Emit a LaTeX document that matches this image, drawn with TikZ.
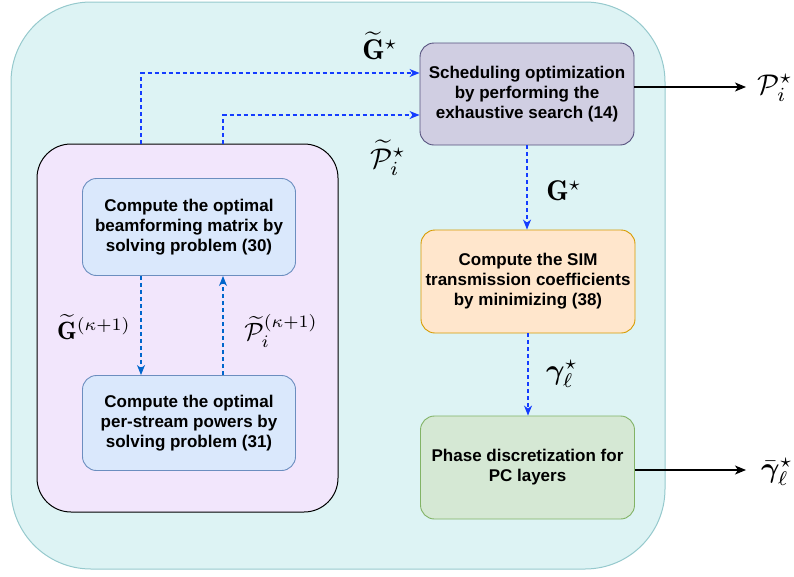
\documentclass[tikz,border=0pt]{standalone}
\usepackage{amsmath, amssymb}
\usepackage{bm}
\usepackage{xcolor}
\usepackage{fontspec}
\newfontfamily\boxfont{Liberation Sans}
\usepackage{tikz}
\usetikzlibrary{arrows.meta, positioning}

\definecolor{outerfill}{RGB}{221,243,244}
\definecolor{outerline}{RGB}{150,201,205}
\definecolor{loopfill}{RGB}{242,230,252}
\definecolor{stepfill}{RGB}{218,232,252}
\definecolor{stepline}{RGB}{108,142,191}
\definecolor{schedfill}{RGB}{208,206,226}
\definecolor{schedline}{RGB}{86,81,126}
\definecolor{simfill}{RGB}{255,230,204}
\definecolor{simline}{RGB}{215,155,0}
\definecolor{phasefill}{RGB}{213,232,212}
\definecolor{phaseline}{RGB}{130,179,102}
\definecolor{flowblue}{RGB}{20,60,255}
\definecolor{loopblue}{RGB}{0,102,204}

\newcommand{\bigsym}[1]{\scalebox{2.85}{$#1$}}
\newcommand{\midsym}[1]{\scalebox{2.5}{$#1$}}

\tikzset{
    block/.style={rectangle, draw, rounded corners=14pt, line width=0.9pt,
        minimum width=214pt, minimum height=100pt, align=center,
        font=\boxfont\bfseries\fontsize{17}{20}\selectfont},
    flow/.style={dashed, dash pattern=on 4pt off 3pt, line width=1.2pt, flowblue,
        -{Stealth[length=10pt, width=8pt, inset=3pt]}},
    loopflow/.style={flow, loopblue},
    result/.style={line width=1.2pt, -{Stealth[length=11pt, width=9pt, inset=3pt]}},
}

\begin{document}
\begin{tikzpicture}[x=1pt, y=-1pt]
    \useasboundingbox (0,0) rectangle (794,576);

    % Containers
    \node[rectangle, draw=outerline, fill=outerfill, rounded corners=80pt, line width=1pt,
        minimum width=654pt, minimum height=567pt] (outer) at (338,285.5) {};
    \node[rectangle, draw=black, fill=loopfill, rounded corners=34pt, line width=1pt,
        minimum width=301pt, minimum height=368pt] (loop) at (187.5,328) {};

    % Alternating optimization blocks
    \node[block, draw=stepline, fill=stepfill, minimum width=213pt, minimum height=97pt] (beam) at (189,227)
        {Compute the optimal\\beamforming matrix by\\solving problem (30)};
    \node[block, draw=stepline, fill=stepfill, minimum width=213pt, minimum height=95pt] (power) at (189,423)
        {Compute the optimal\\per-stream powers by\\solving problem (31)};

    % Main chain
    \node[block, draw=schedline, fill=schedfill, minimum height=102pt] (sched) at (527,94)
        {Scheduling optimization\\by performing the\\exhaustive search (14)};
    \node[block, draw=simline, fill=simfill, minimum height=103pt] (sim) at (528,281.5)
        {Compute the SIM\\transmission coefficients\\by minimizing (38)};
    \node[block, draw=phaseline, fill=phasefill, minimum height=103pt] (phase) at (527.5,467.5)
        {Phase discretization for\\PC layers};

    % Outputs
    \coordinate (pout) at (746,87);
    \coordinate (gout) at (746,470);
    \node (plabel) at (775,88) {\bigsym{\mathcal{P}_i^{\star}}};
    \node (glabel) at (777,472) {\bigsym{\bar{\boldsymbol{\gamma}}_{\ell}^{\star}}};
    \draw[result] (sched.east |- pout) -- (pout);
    \draw[result] (phase.east |- gout) -- (gout);

    % Loop arrows
    \coordinate (gx) at (141,0);
    \coordinate (px) at (223,0);
    \draw[loopflow] (beam.south -| gx) -- (power.north -| gx);
    \draw[loopflow] (power.north -| px) -- (beam.south -| px);
    \node (gk) at (94,327) {\midsym{\widetilde{\mathbf{G}}^{(\kappa+1)}}};
    \node (pk) at (281,331) {\midsym{\widetilde{\mathcal{P}}_i^{(\kappa+1)}}};

    % Loop outputs to scheduling
    \draw[flow] (loop.north -| gx) |- ([yshift=21pt]sched.west);
    \draw[flow] (loop.north -| px) |- ([yshift=-21pt]sched.west);
    \node (gt) at (380,46) {\bigsym{\widetilde{\mathbf{G}}^{\star}}};
    \node (pt) at (388,158) {\bigsym{\widetilde{\mathcal{P}}_i^{\star}}};

    % Down the chain
    \draw[flow] (sched.south) -- (sim.north -| sched.south);
    \draw[flow] (sim.south) -- (phase.north -| sim.south);
    \node (gs) at (564,191) {\bigsym{\mathbf{G}^{\star}}};
    \node (gam) at (562,374) {\bigsym{\boldsymbol{\gamma}_{\ell}^{\star}}};
\end{tikzpicture}
\end{document}
